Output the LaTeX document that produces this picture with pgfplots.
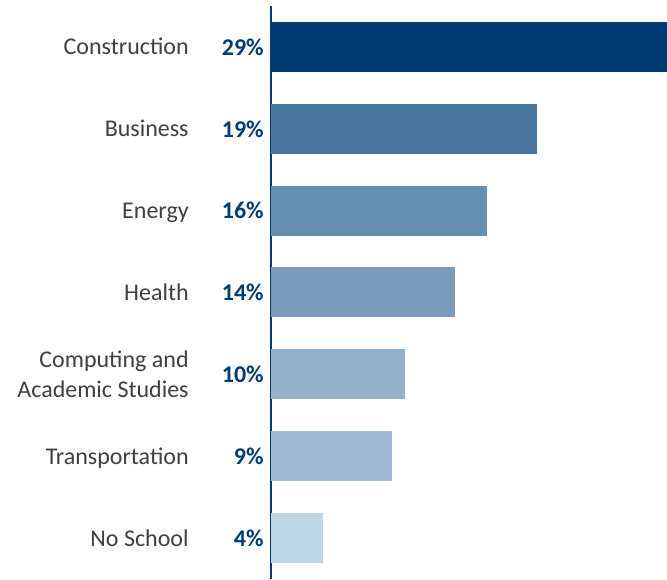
\documentclass[border=0pt]{standalone}
\usepackage{pgfplots}
\pgfplotsset{compat=1.18}
\usepackage{fontspec}
\setmainfont{Carlito}
\definecolor{cA}{HTML}{003B71}
\definecolor{cB}{HTML}{49779E}
\definecolor{cC}{HTML}{6690B2}
\definecolor{cD}{HTML}{7A9CBA}
\definecolor{cE}{HTML}{92B2CC}
\definecolor{cF}{HTML}{9DBAD2}
\definecolor{cG}{HTML}{BFD6E6}
\definecolor{tgrey}{HTML}{404040}
\newcommand{\lab}[2]{\begin{tabular}{@{}r@{}}#1\end{tabular}\makebox[75pt][r]{\color{cA}\bfseries #2}}
\begin{document}
\begin{tikzpicture}
\begin{axis}[
  xbar, scale only axis, width=396pt, height=573pt,
  xmin=0, xmax=29.2, ymin=-0.5, ymax=6.5, y dir=reverse,
  axis x line=none, axis y line=left,
  y axis line style={-, draw=cA, line width=2pt},
  xtick=\empty, ytick={0,...,6},
  ytick style={draw=none},
  yticklabels={
    {\lab{Construction}{29\%}},
    {\lab{Business}{19\%}},
    {\lab{Energy}{16\%}},
    {\lab{Health}{14\%}},
    {\lab{Computing and\\Academic Studies}{10\%}},
    {\lab{Transportation}{9\%}},
    {\lab{No School}{4\%}}},
  yticklabel style={font=\fontsize{24}{30}\selectfont, text=tgrey, inner sep=0pt, anchor=east, xshift=-5pt, yshift=-2pt},
  bar width=50pt, bar shift=0pt,
  clip=false,
]
\addplot[fill=cA, draw=none] coordinates {(29.2,0)};
\addplot[fill=cB, draw=none] coordinates {(19.6,1)};
\addplot[fill=cC, draw=none] coordinates {(15.9,2)};
\addplot[fill=cD, draw=none] coordinates {(13.6,3)};
\addplot[fill=cE, draw=none] coordinates {(9.9,4)};
\addplot[fill=cF, draw=none] coordinates {(8.9,5)};
\addplot[fill=cG, draw=none] coordinates {(3.8,6)};
\end{axis}
\path (current axis.south west) ++(-271pt,0pt);
\path (current axis.north east) ++(0pt,6pt);
\end{tikzpicture}
\end{document}
